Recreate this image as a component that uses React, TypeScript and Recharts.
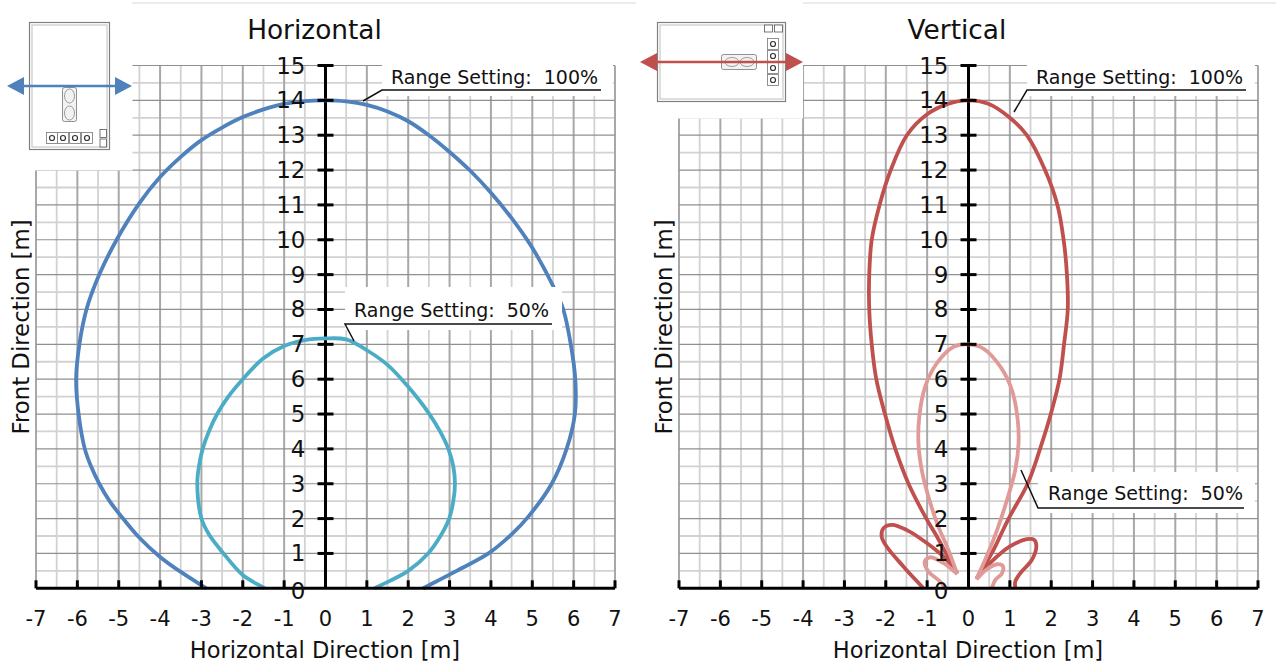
import React from 'react'
import { LineChart, Line, XAxis, YAxis, CartesianGrid, ReferenceLine } from 'recharts'

// axis values
const xTicks = [-7, -6, -5, -4, -3, -2, -1, 0, 1, 2, 3, 4, 5, 6, 7]
const yTicks = [0, 1, 2, 3, 4, 5, 6, 7, 8, 9, 10, 11, 12, 13, 14, 15]
const xMinor = [-6.5, -5.5, -4.5, -3.5, -2.5, -1.5, -0.5, 0.5, 1.5, 2.5, 3.5, 4.5, 5.5, 6.5]
const yMinor = [0.5, 1.5, 2.5, 3.5, 4.5, 5.5, 6.5, 7.5, 8.5, 9.5, 10.5, 11.5, 12.5, 13.5, 14.5]

// horizontal pattern as [x, y] in metres
const horiz100 = [
  [-2.88, 0], [-3.5, 0.47], [-4, 0.9], [-4.5, 1.45], [-4.88, 1.98], [-5.22, 2.5], [-5.47, 3], [-5.67, 3.5], [-5.82, 4],
  [-5.97, 5], [-6.03, 6], [-5.95, 7], [-5.78, 8], [-5.47, 9], [-5.05, 10], [-4.5, 11.05], [-4, 11.8], [-3.5, 12.38],
  [-3, 12.86], [-2.5, 13.22], [-2, 13.52], [-1.5, 13.74], [-1, 13.9], [-0.5, 13.98], [0, 14], [0.5, 13.97], [1, 13.87],
  [1.5, 13.68], [2, 13.4], [2.5, 13], [3, 12.52], [3.5, 11.98], [4, 11.35], [4.5, 10.62], [5, 9.77], [5.5, 8.68],
  [5.75, 8], [5.93, 7], [6.04, 6], [6.03, 5], [5.83, 4], [5.47, 3], [4.9, 2.05], [4.5, 1.55], [3.94, 1], [3.17, 0.5], [2.36, 0],
]
const horiz50 = [
  [-1.47, 0], [-2, 0.38], [-2.5, 1.05], [-2.82, 1.55], [-3, 2], [-3.1, 3], [-3.06, 3.5], [-2.97, 4], [-2.82, 4.5], [-2.62, 5], [-2.35, 5.5],
  [-2, 6], [-1.5, 6.6], [-1, 6.95], [-0.5, 7.12], [0, 7.17], [0.5, 7.14], [1, 6.83], [1.5, 6.41], [2, 5.78], [2.5, 5.02],
  [2.77, 4.5], [2.97, 4], [3.09, 3.5], [3.13, 3], [3.09, 2.5], [2.99, 2], [2.78, 1.5], [2.48, 1], [2, 0.5], [1.19, 0],
]

// vertical pattern: main lobes and the small side lobes
const vert100Main = [
  [-0.27, 0.43], [-0.52, 0.95], [-0.77, 1.5], [-1.02, 2], [-1.45, 3], [-1.77, 4], [-2.02, 5], [-2.23, 6], [-2.34, 7],
  [-2.4, 8], [-2.4, 9], [-2.34, 10], [-2.15, 11], [-1.88, 12], [-1.49, 13], [-1, 13.6], [-0.5, 13.9], [0, 14],
  [0.48, 13.9], [1, 13.5], [1.41, 13], [1.85, 12], [2.15, 11], [2.3, 10], [2.38, 9], [2.4, 8], [2.31, 7], [2.2, 6],
  [1.99, 5], [1.73, 4], [1.43, 3], [0.97, 2], [0.56, 1], [0.2, 0.29],
]
const vert100LobeL = [
  [-1.09, 0], [-1.57, 0.62], [-1.98, 1.2], [-2.1, 1.48], [-2.06, 1.72], [-1.85, 1.82], [-1.49, 1.67], [-1, 1.29],
  [-0.52, 0.81], [-0.27, 0.43],
]
const vert100LobeR = [
  [0.2, 0.29], [0.52, 0.72], [1, 1.2], [1.41, 1.41], [1.59, 1.39], [1.64, 1.2], [1.53, 0.81], [1.25, 0.43],
  [1.13, 0.19], [1.13, 0],
]
const vert50Main = [
  [-0.27, 0.41], [-0.52, 1.2], [-0.73, 1.77], [-0.97, 2.63], [-1.13, 3.39], [-1.21, 4.16], [-1.19, 4.92], [-1.05, 5.78],
  [-0.77, 6.45], [-0.36, 6.93], [0, 7], [0.36, 6.88], [0.77, 6.36], [1.05, 5.69], [1.19, 4.83], [1.21, 4.16],
  [1.13, 3.39], [0.93, 2.53], [0.69, 1.67], [0.4, 0.81], [0.19, 0.26],
]
const vert50LobeL = [
  [-0.27, 0.41], [-0.6, 0.72], [-0.93, 0.89], [-1.06, 0.77], [-0.97, 0.48], [-0.73, 0.24], [-0.54, 0],
]
const vert50LobeR = [
  [0.19, 0.26], [0.44, 0.54], [0.69, 0.69], [0.83, 0.64], [0.81, 0.43], [0.65, 0.24], [0.56, 0],
]

const FONT = '"DejaVu Sans", Verdana, sans-serif'
const BLUE = '#4f81bd'
const TEAL = '#4bacc6'
const RED = '#c0504d'
const PINK = '#e09a98'

const toPoints = (pts: number[][]) => pts.map(([x, y]) => ({ x, y }))

const PLOT_W = 579

// the curves double back on themselves and their points are unevenly spaced,
// so the stock curve types wobble: this one is a centripetal catmull-rom
const smoothCurve = (ctx: any) => {
  let pts: number[][] = []
  const dist = (a: number[], b: number[]) => Math.sqrt(Math.hypot(a[0] - b[0], a[1] - b[1])) || 1e-6
  return {
    areaStart() {},
    areaEnd() {},
    lineStart() { pts = [] },
    point(x: number, y: number) { pts.push([x, y]) },
    lineEnd() {
      pts.forEach((p, i) => {
        if (i === 0) { ctx.moveTo(p[0], p[1]); return }
        const p1 = pts[i - 1]
        const p0 = pts[i - 2] || p1
        const p3 = pts[i + 1] || p
        const d1 = dist(p0, p1)
        const d2 = dist(p1, p)
        const d3 = dist(p, p3)
        const tan = (a: number[], b: number[], c: number[], da: number, db: number, k: number) =>
          d2 * ((b[k] - a[k]) / da - (c[k] - a[k]) / (da + db) + (c[k] - b[k]) / db)
        const m1 = [0, 1].map(k => (i === 1 ? p[k] - p1[k] : tan(p0, p1, p, d1, d2, k)))
        const m2 = [0, 1].map(k => (i === pts.length - 1 ? p[k] - p1[k] : tan(p1, p, p3, d2, d3, k)))
        ctx.bezierCurveTo(p1[0] + m1[0] / 3, p1[1] + m1[1] / 3, p[0] - m2[0] / 3, p[1] - m2[1] / 3, p[0], p[1])
      })
    },
  }
}

function XTick({ x, y, payload }: any) {
  return (
    <g>
      <line x1={x} x2={x} y1={y - 8} y2={y} stroke="#000" strokeWidth={3} />
      <text x={x} y={y + 38} textAnchor="middle" fontSize={21} fontFamily={FONT} fill="#111">{payload.value}</text>
    </g>
  )
}

function YTick({ x, y, payload }: any) {
  const cx = x + PLOT_W / 2
  return (
    <g>
      {payload.value > 0 && <line x1={cx - 8} x2={cx + 8} y1={y} y2={y} stroke="#000" strokeWidth={3} />}
      <text x={cx - 20} y={payload.value === 0 ? y + 11 : y + 8} textAnchor="end" fontSize={23} fontFamily={FONT} fill="#111">{payload.value}</text>
    </g>
  )
}

interface Series {
  points: number[][]
  color: string
}

function PatternChart({ left, series }: { left: number; series: Series[] }) {
  return (
    <div style={{ position: 'absolute', left, top: 0 }}>
      <LineChart width={640} height={666} data={[]} margin={{ top: 65.5, right: 25, bottom: 76.7, left: 35 }}>
        <CartesianGrid stroke="#d2d2d2" strokeWidth={1.8} horizontalValues={yMinor} verticalValues={xMinor} />
        <CartesianGrid stroke="#a8a8a8" strokeWidth={2} horizontal={false} verticalValues={xTicks} />
        <CartesianGrid stroke="#8f8f8f" strokeWidth={1.2} vertical={false} horizontalValues={yTicks} />
        <XAxis dataKey="x" type="number" domain={[-7, 7]} ticks={xTicks} height={1} interval={0} tickMargin={0} tickSize={0}
          tickLine={false} axisLine={{ stroke: '#000', strokeWidth: 3 }} tick={(p: any) => <XTick {...p} />} />
        <YAxis dataKey="y" type="number" domain={[0, 15]} ticks={yTicks} width={1} interval={0} tickMargin={0} tickSize={0}
          tickLine={false} axisLine={false} tick={(p: any) => <YTick {...p} />} />
        <ReferenceLine x={0} stroke="#000" strokeWidth={3} />
        {series.map((s, i) => (
          <Line key={i} data={toPoints(s.points)} dataKey="y" type={smoothCurve as any} stroke={s.color} strokeWidth={3.8}
            dot={false} activeDot={false} isAnimationActive={false} />
        ))}
      </LineChart>
    </div>
  )
}

function Label({ x, y, text }: { x: number; y: number; text: string }) {
  return <text x={x} y={y} fontSize={19} fontFamily={FONT} fill="#111" xmlSpace="preserve">{text}</text>
}

function Arrow({ x1, x2, y, color }: { x1: number; x2: number; y: number; color: string }) {
  return (
    <g fill={color}>
      <line x1={x1 + 10} x2={x2 - 10} y1={y} y2={y} stroke={color} strokeWidth={2.5} />
      <path d={`M${x1} ${y}L${x1 + 17} ${y - 9}L${x1 + 17} ${y + 9}Z`} />
      <path d={`M${x2} ${y}L${x2 - 17} ${y - 9}L${x2 - 17} ${y + 9}Z`} />
    </g>
  )
}

function Knob({ x, y }: { x: number; y: number }) {
  return (
    <g>
      <rect x={x - 5.5} y={y - 5.5} width={11} height={11} fill="#fff" stroke="#777" strokeWidth={0.8} />
      <circle cx={x} cy={y} r={2.5} fill="#fff" stroke="#333" strokeWidth={1.2} />
    </g>
  )
}

function Overlay() {
  return (
    <svg width={1276} height={666} style={{ position: 'absolute', left: 0, top: 0, pointerEvents: 'none' }}>
      {/* white patches behind the device pictures and notes */}
      <rect x={0} y={0} width={132.5} height={170.5} fill="#fff" />
      <rect x={636} y={0} width={167} height={118.5} fill="#fff" />
      <rect x={382} y={60} width={231} height={36} fill="#fff" />
      <rect x={345} y={287} width={217} height={43} fill="#fff" />
      <rect x={1027} y={60} width={228} height={36} fill="#fff" />
      <rect x={1038} y={472} width={217} height={41} fill="#fff" />
      <line x1={132} x2={636} y1={3} y2={3} stroke="#d8d8d8" strokeWidth={1} />
      <line x1={803} x2={1276} y1={3} y2={3} stroke="#d8d8d8" strokeWidth={1} />

      {/* device seen from the front */}
      <rect x={29.5} y={22.5} width={80} height={127} fill="#fff" stroke="#808080" strokeWidth={1.2} />
      <rect x={32} y={25} width={75} height={122} fill="none" stroke="#d4d4d4" strokeWidth={1.5} />
      <rect x={62.5} y={87.5} width={14} height={34} rx={2} fill="#f2f2f2" stroke="#777" strokeWidth={0.8} />
      <ellipse cx={69.5} cy={96} rx={5} ry={7} fill="none" stroke="#888" strokeWidth={0.8} />
      <ellipse cx={69.5} cy={113} rx={5} ry={7} fill="none" stroke="#888" strokeWidth={0.8} />
      <Knob x={52} y={138} /><Knob x={63} y={138} /><Knob x={75} y={138} /><Knob x={87} y={138} />
      <rect x={100} y={129.5} width={6.5} height={8} fill="#fff" stroke="#555" strokeWidth={0.8} />
      <rect x={100} y={139} width={6.5} height={8} fill="#fff" stroke="#555" strokeWidth={0.8} />
      <Arrow x1={7} x2={132} y={86} color={BLUE} />

      {/* device seen lying down */}
      <rect x={657.5} y={22.5} width={128} height={79} fill="#fff" stroke="#808080" strokeWidth={1.2} />
      <rect x={660} y={25} width={123} height={74} fill="none" stroke="#d4d4d4" strokeWidth={1.5} />
      <rect x={721.5} y={54.5} width={35} height={15} rx={2} fill="#f2f2f2" stroke="#777" strokeWidth={0.8} />
      <ellipse cx={732} cy={62} rx={7} ry={4.5} fill="none" stroke="#888" strokeWidth={0.8} />
      <ellipse cx={747} cy={62} rx={7} ry={4.5} fill="none" stroke="#888" strokeWidth={0.8} />
      <Knob x={773} y={44} /><Knob x={773} y={56} /><Knob x={773} y={68} /><Knob x={773} y={80} />
      <rect x={764.5} y={25} width={8} height={7} fill="#fff" stroke="#555" strokeWidth={0.8} />
      <rect x={774.5} y={25} width={8} height={7} fill="#fff" stroke="#555" strokeWidth={0.8} />
      <Arrow x1={640} x2={803} y={62} color={RED} />

      {/* titles */}
      <text x={314.5} y={39} textAnchor="middle" fontSize={26.4} fontFamily={FONT} fill="#111">Horizontal</text>
      <text x={957} y={39} textAnchor="middle" fontSize={26.4} fontFamily={FONT} fill="#111">Vertical</text>
      <text x={325} y={658} textAnchor="middle" fontSize={22.5} fontFamily={FONT} fill="#111">Horizontal Direction [m]</text>
      <text x={968} y={658} textAnchor="middle" fontSize={22.5} fontFamily={FONT} fill="#111">Horizontal Direction [m]</text>
      <text transform="translate(29 327) rotate(-90)" textAnchor="middle" fontSize={22.8} fontFamily={FONT} fill="#111">Front Direction [m]</text>
      <text transform="translate(672 327) rotate(-90)" textAnchor="middle" fontSize={22.8} fontFamily={FONT} fill="#111">Front Direction [m]</text>

      {/* notes with leader lines */}
      <Label x={391} y={84} text="Range Setting:  100%" />
      <polyline points="363,101 382,90 601,90" fill="none" stroke="#111" strokeWidth={1.5} />
      <Label x={354} y={317} text="Range Setting:  50%" />
      <polyline points="354,341 345,324 552,324" fill="none" stroke="#111" strokeWidth={1.5} />
      <Label x={1036} y={84} text="Range Setting:  100%" />
      <polyline points="1014,112 1027,90 1246,90" fill="none" stroke="#111" strokeWidth={1.5} />
      <Label x={1048} y={500} text="Range Setting:  50%" />
      <polyline points="1021,470 1038,508 1244,508" fill="none" stroke="#111" strokeWidth={1.5} />
    </svg>
  )
}

export default function App() {
  return (
    <div style={{ position: 'absolute', left: 0, top: 0, width: 1276, height: 666, overflow: 'hidden', background: '#fff' }}>
      <PatternChart left={0} series={[
        { points: horiz100, color: BLUE },
        { points: horiz50, color: TEAL },
      ]} />
      <PatternChart left={642.6} series={[
        { points: vert100Main, color: RED },
        { points: vert100LobeL, color: RED },
        { points: vert100LobeR, color: RED },
        { points: vert50Main, color: PINK },
        { points: vert50LobeL, color: PINK },
        { points: vert50LobeR, color: PINK },
      ]} />
      <Overlay />
    </div>
  )
}
